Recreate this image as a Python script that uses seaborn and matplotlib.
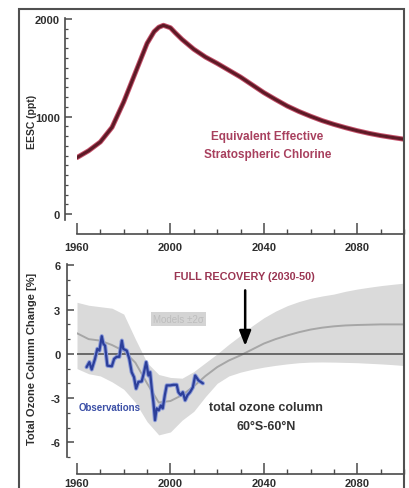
import numpy as np
import pandas as pd
import matplotlib
matplotlib.use("Agg")
import matplotlib.pyplot as plt
from matplotlib.patches import Rectangle
from matplotlib.ticker import MultipleLocator, FixedLocator
import seaborn as sns

# Equivalent Effective Stratospheric Chlorine (ppt)
eesc_years = [1960, 1965, 1970, 1975, 1980, 1985, 1990, 1993, 1995, 1997, 2000,
              2002, 2005, 2010, 2015, 2020, 2025, 2030, 2035, 2040, 2045, 2050,
              2055, 2060, 2065, 2070, 2075, 2080, 2085, 2090, 2095, 2100]
eesc_ppt = [580, 650, 740, 890, 1150, 1450, 1750, 1870, 1915, 1935, 1910,
            1860, 1790, 1690, 1610, 1545, 1475, 1405, 1325, 1245, 1175, 1108,
            1052, 1003, 958, 920, 886, 855, 828, 805, 786, 768]

# Model projections of total ozone column change (%), 60S-60N
model_years = [1960, 1965, 1970, 1975, 1980, 1985, 1990, 1995, 2000, 2005, 2010,
               2015, 2020, 2025, 2030, 2035, 2040, 2045, 2050, 2055, 2060, 2065,
               2070, 2075, 2080, 2085, 2090, 2095, 2100]
model_mean = [1.4, 1.0, 0.9, 0.6, 0.2, -0.6, -2.0, -3.3, -3.2, -2.8, -2.2,
              -1.5, -0.9, -0.45, -0.1, 0.3, 0.7, 1.0, 1.25, 1.47, 1.65, 1.78,
              1.87, 1.93, 1.96, 1.98, 2.0, 2.0, 2.0]
model_upper = [3.5, 3.3, 3.2, 3.1, 2.7, 1.0, -0.6, -1.4, -1.6, -1.65, -1.2,
               -0.6, 0.0, 0.65, 1.25, 1.9, 2.45, 2.9, 3.27, 3.55, 3.77, 3.93,
               4.06, 4.25, 4.4, 4.52, 4.63, 4.72, 4.8]
model_lower = [-1.0, -1.35, -1.5, -1.9, -2.4, -3.3, -4.6, -5.5, -5.3, -4.5, -3.9,
               -2.9, -2.0, -1.5, -1.24, -1.05, -0.9, -0.78, -0.68, -0.6, -0.56, -0.55,
               -0.56, -0.58, -0.6, -0.64, -0.68, -0.73, -0.79]

# Observed total ozone column change (%)
obs_years = [1964.1, 1965.3, 1966.3, 1967.7, 1968.7, 1969.6, 1970.6, 1971.3, 1972.0,
             1973.0, 1974.9, 1975.9, 1977.0, 1978.1, 1979.2, 1979.8, 1981.3, 1982.4,
             1983.4, 1984.4, 1985.3, 1986.3, 1987.7, 1988.7, 1989.6, 1990.6, 1991.3,
             1992.0, 1992.7, 1993.4, 1994.1, 1995.0, 1995.9, 1996.7, 1997.6, 1998.4,
             1999.9, 2001.3, 2002.7, 2003.4, 2004.4, 2005.3, 2006.3, 2007.3, 2008.4,
             2009.6, 2010.6, 2012.0, 2013.9]
obs_change = [-0.9, -0.56, -1.06, -0.34, 0.34, 0.22, 1.2, 0.68, 0.56,
              -0.8, -0.84, -0.34, -0.2, -0.2, 0.9, 0.34, 0.22, -0.34,
              -1.24, -1.58, -2.36, -1.9, -1.87, -1.24, -0.56, -1.47, -1.24,
              -2.36, -3.27, -4.5, -3.7, -3.83, -3.5, -3.7, -2.8, -2.14,
              -2.14, -2.1, -2.1, -2.6, -2.8, -2.6, -3.15, -2.8, -2.6,
              -2.27, -1.47, -1.8, -2.0]

x_tick_labels = ["1960", "2000", "2040", "2080"]
eesc_tick_labels = ["0", "1000", "2000"]
ozone_tick_labels = ["-6", "-3", "0", "3", "6"]

recovery_year = 2032
recovery_text = "FULL RECOVERY (2030-50)"

sns.set_style("white")
plt.rcParams["font.family"] = ["Liberation Sans", "DejaVu Sans"]

W, H = 409, 489
fig = plt.figure(figsize=(W / 100, H / 100), dpi=100)

def px_axes(x0, y0, x1, y1):
    return fig.add_axes([x0 / W, 1 - y1 / H, (x1 - x0) / W, (y1 - y0) / H])

ax1 = px_axes(77, 19, 404, 221)
ax2 = px_axes(77, 265, 404, 458)

spine_col = "#4a4a4a"
tick_col = "#2e2e2e"

def style_axes(ax, left_out, bottom_out, ypad, xpad):
    for s in ("top", "right"):
        ax.spines[s].set_visible(False)
    ax.spines["left"].set_position(("outward", left_out))
    ax.spines["bottom"].set_position(("outward", bottom_out))
    for s in ("left", "bottom"):
        ax.spines[s].set_color(spine_col)
        ax.spines[s].set_linewidth(1.2)
    ax.tick_params(axis="x", which="both", bottom=True, top=False)
    ax.tick_params(axis="y", which="both", left=True, right=False)
    ax.tick_params(axis="x", which="major", direction="in", length=8, width=1.1,
                   color=spine_col, pad=xpad, labelsize=8, labelcolor=tick_col)
    ax.tick_params(axis="x", which="minor", direction="in", length=3.5, width=1.0,
                   color=spine_col)
    ax.tick_params(axis="y", which="major", direction="in", length=5, width=1.1,
                   color=spine_col, pad=ypad, labelsize=8, labelcolor=tick_col)
    ax.tick_params(axis="y", which="minor", direction="in", length=2.5, width=0.9,
                   color=spine_col)
    ax.set_xlim(1960, 2100)
    ax.xaxis.set_major_locator(FixedLocator([int(t) for t in x_tick_labels]))
    ax.set_xticklabels(x_tick_labels, fontweight="bold")
    ax.xaxis.set_minor_locator(MultipleLocator(10))
    ax.set_xlabel("")
    ax.set_ylabel("")
    ax.patch.set_alpha(0)

# --- top panel: EESC ---
eesc_df = pd.DataFrame({"year": eesc_years, "eesc": eesc_ppt})
sns.lineplot(data=eesc_df, x="year", y="eesc", ax=ax1, color="#c4506a", lw=3.6)
sns.lineplot(data=eesc_df, x="year", y="eesc", ax=ax1, color="#5e1a26", lw=2.2)
ax1.set_ylim(-60, 2010)
style_axes(ax1, 9, 10, 3.5, 6)
ax1.yaxis.set_major_locator(FixedLocator([int(t) for t in eesc_tick_labels]))
ax1.set_yticklabels(eesc_tick_labels, fontweight="bold")
ax1.yaxis.set_minor_locator(MultipleLocator(100))
ax1.text(2041.5, 800, "Equivalent Effective", ha="center", va="center",
         fontsize=8.5, fontweight="bold", color="#a8405e")
ax1.text(2041.5, 615, "Stratospheric Chlorine", ha="center", va="center",
         fontsize=8.5, fontweight="bold", color="#a8405e")

# --- bottom panel: ozone column ---
ax2.fill_between(model_years, model_lower, model_upper, color="#dadada", lw=0, zorder=1)
model_df = pd.DataFrame({"year": model_years, "mean": model_mean})
sns.lineplot(data=model_df, x="year", y="mean", ax=ax2, color="#a6a6a6", lw=1.4, zorder=2)
ax2.axhline(0, color="#555555", lw=1.2, zorder=3)
obs_df = pd.DataFrame({"year": obs_years, "change": obs_change})
sns.lineplot(data=obs_df, x="year", y="change", ax=ax2, color="#8a9ad8", lw=3.0, zorder=4)
sns.lineplot(data=obs_df, x="year", y="change", ax=ax2, color="#2c3f9a", lw=1.6, zorder=5)
ax2.set_ylim(-7, 6.1)
style_axes(ax2, 7, 12, 5, 3)
ax2.yaxis.set_major_locator(FixedLocator([int(t) for t in ozone_tick_labels]))
ax2.set_yticklabels(ozone_tick_labels, fontweight="bold")
ax2.yaxis.set_minor_locator(MultipleLocator(1))

ax2.annotate("", xy=(recovery_year, 0.35), xytext=(recovery_year, 4.5),
             arrowprops=dict(arrowstyle="-|>,head_length=0.9,head_width=0.35",
                             color="black", lw=1.8), zorder=6)
ax2.text(2031.5, 5.3, recovery_text, ha="center", va="center", fontsize=7.8,
         fontweight="bold", color="#9a3552", zorder=6)
ax2.text(2003.4, 2.37, "Models \u00b12\u03c3", ha="center", va="center", fontsize=7,
         color="#bdbdbd", zorder=6,
         bbox=dict(boxstyle="square,pad=0.25", fc="#d4d4d4", ec="none"))
ax2.text(1960.5, -3.6, "Observations", ha="left", va="center", fontsize=7,
         fontweight="bold", color="#3b4fa6", zorder=6)
ax2.text(2041, -3.6, "total ozone column", ha="center", va="center", fontsize=9,
         fontweight="bold", color="#333333", zorder=6)
ax2.text(2041, -4.9, "60\u00b0S-60\u00b0N", ha="center", va="center", fontsize=9,
         fontweight="bold", color="#333333", zorder=6)

# axis titles
fig.text(32 / W, 1 - 122 / H, "EESC (ppt)", rotation=90, ha="center", va="center",
         fontsize=7.5, fontweight="bold", color=tick_col)
fig.text(32 / W, 1 - 359 / H, "Total Ozone Column Change [%]", rotation=90,
         ha="center", va="center", fontsize=8, fontweight="bold", color=tick_col)

# outer frame
fig.patches.append(Rectangle((18.5 / W, -0.05), (404 - 18.5) / W, 1.05 - 10 / H,
                             transform=fig.transFigure, fill=False,
                             ec="#505050", lw=1.5, clip_on=False))

fig.savefig("out.png", dpi=100, facecolor="white")
